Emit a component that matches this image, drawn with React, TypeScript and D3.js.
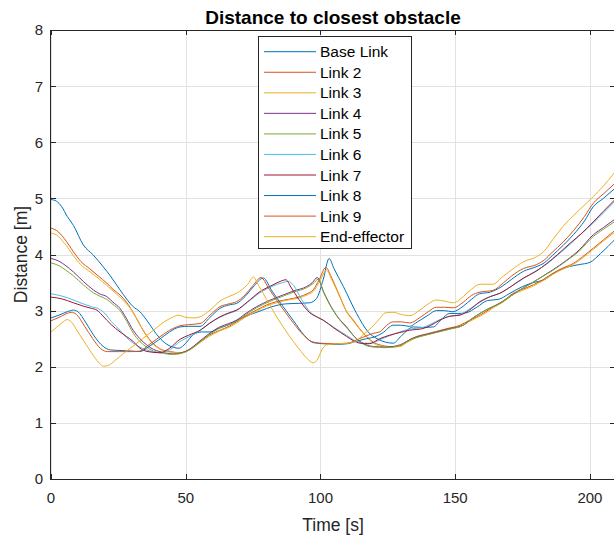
import React from "react";
import * as d3 from "d3";

type Pt = [number, number];

// Time [s], distance [m] samples for each link
const baseLink: Pt[] = [
  [0, 4.98], [2, 4.95], [4, 4.85], [6, 4.68], [8.3, 4.52], [12, 4.17], [15.7, 3.99], [19.4, 3.78],
  [22, 3.62], [25.6, 3.37], [30.5, 3.07], [33, 2.98], [35.5, 2.83], [40, 2.53], [43, 2.4], [47.5, 2.33],
  [50, 2.42], [53, 2.58], [56, 2.62], [59, 2.62], [62, 2.68], [66, 2.75], [70, 2.85], [74, 2.93],
  [78, 3.0], [82, 3.07], [87, 3.12], [92, 3.13], [96, 3.14], [98.6, 3.22], [101, 3.55], [103.2, 3.93],
  [105, 3.75], [108.5, 3.43], [113.4, 2.95], [117.7, 2.62], [121, 2.5], [124, 2.44], [127, 2.42],
  [130, 2.55], [134.5, 2.71], [138, 2.7], [141.9, 2.71], [145, 2.85], [148, 2.95], [151, 2.95],
  [154, 2.96], [158, 3.06], [162, 3.18], [166, 3.2], [170, 3.3], [175, 3.43], [179, 3.5], [183, 3.55],
  [187, 3.68], [192, 3.78], [196, 3.82], [200, 3.86], [204, 4.02], [209.3, 4.27],
];

const link2: Pt[] = [
  [0, 4.47], [2, 4.43], [5, 4.28], [8.3, 4.05], [11, 3.88], [14.5, 3.74], [17.5, 3.62], [20.7, 3.49],
  [23, 3.38], [25.6, 3.28], [28, 3.15], [29.3, 3.06], [31.5, 2.88], [34.2, 2.65], [37, 2.46], [39.2, 2.36],
  [42, 2.29], [44.2, 2.27], [47.9, 2.25], [51, 2.3], [55.3, 2.45], [59, 2.57], [62.7, 2.65], [66, 2.72],
  [68.9, 2.8], [72, 2.9], [76.3, 3.01], [80, 3.1], [83.7, 3.16], [88, 3.2], [92.4, 3.25], [95, 3.3],
  [97.3, 3.37], [99.5, 3.55], [102, 3.77], [104, 3.6], [107.2, 3.25], [109.5, 3.0], [112.2, 2.83],
  [114.5, 2.68], [117.1, 2.54], [119.5, 2.44], [122, 2.39], [126, 2.36], [129.5, 2.37], [132, 2.45],
  [135.7, 2.54], [139, 2.58], [143, 2.63], [147, 2.68], [151.8, 2.74], [155, 2.82], [158, 2.89],
  [161, 2.97], [164.1, 3.07], [168, 3.18], [171.6, 3.31], [175, 3.38], [179, 3.46], [182.5, 3.55],
  [186.4, 3.67], [190, 3.76], [193.8, 3.84], [197, 3.95], [201.2, 4.11], [205, 4.26], [209.3, 4.43],
];

const link3: Pt[] = [
  [0, 4.38], [2, 4.35], [5, 4.2], [8.3, 3.98], [11, 3.82], [14.5, 3.69], [17.5, 3.58], [20.7, 3.45],
  [23, 3.35], [25.6, 3.24], [28, 3.12], [29.8, 3.02], [32, 2.84], [34.5, 2.62], [37, 2.45], [39.5, 2.34],
  [42, 2.28], [44.5, 2.26], [48, 2.25], [51, 2.29], [55.3, 2.43], [59, 2.55], [62.7, 2.64], [66, 2.7],
  [68.9, 2.78], [72, 2.88], [76.3, 2.99], [80, 3.08], [83.7, 3.14], [88, 3.19], [92.4, 3.23], [95, 3.28],
  [97.5, 3.35], [99.7, 3.52], [102.2, 3.72], [104.2, 3.55], [107.4, 3.22], [109.7, 2.98], [112.4, 2.8],
  [114.7, 2.66], [117.3, 2.52], [119.7, 2.42], [122, 2.37], [126, 2.35], [129.5, 2.36], [132, 2.43],
  [135.7, 2.52], [139, 2.57], [143, 2.62], [147, 2.66], [151.8, 2.72], [155, 2.8], [158, 2.87],
  [161, 2.95], [164.1, 3.05], [168, 3.16], [171.6, 3.29], [175, 3.36], [179, 3.44], [182.5, 3.53],
  [186.4, 3.65], [190, 3.74], [193.8, 3.82], [197, 3.93], [201.2, 4.09], [205, 4.24], [209.3, 4.4],
];

const link4: Pt[] = [
  [0, 3.93], [3, 3.88], [5.5, 3.8], [8.3, 3.69], [12, 3.52], [15.7, 3.37], [18, 3.3], [20.7, 3.25],
  [23, 3.15], [25.6, 3.04], [28, 2.86], [30.5, 2.65], [33, 2.5], [35.5, 2.39], [38, 2.31], [40.4, 2.27],
  [45.4, 2.23], [50.3, 2.28], [55.3, 2.46], [59, 2.6], [62.7, 2.71], [66, 2.77], [68.9, 2.83], [72, 2.94],
  [76.3, 3.07], [81, 3.18], [86.2, 3.28], [90, 3.35], [94.9, 3.43], [97, 3.5], [98.8, 3.59], [101, 3.35],
  [104.7, 3.01], [107, 2.85], [109.7, 2.71], [112, 2.57], [114.7, 2.45], [117, 2.39], [119.6, 2.36],
  [124, 2.35], [127, 2.36], [129.5, 2.39], [134.4, 2.51], [138, 2.56], [143.1, 2.62], [148, 2.68],
  [153, 2.74], [156, 2.85], [159.2, 2.95], [163, 3.05], [166.6, 3.13], [170, 3.24], [174, 3.37],
  [178, 3.48], [181.4, 3.58], [186, 3.72], [191.4, 3.9], [196, 4.08], [201.2, 4.35], [205, 4.48], [209.3, 4.63],
];

const link5: Pt[] = [
  [0, 3.85], [3, 3.8], [5.5, 3.72], [8.3, 3.62], [12, 3.46], [15.7, 3.32], [18, 3.26], [20.7, 3.2],
  [23, 3.11], [25.6, 3.0], [28, 2.82], [30.5, 2.6], [33, 2.45], [35.5, 2.35], [38, 2.28], [40.4, 2.25],
  [45.4, 2.22], [50.3, 2.27], [55.3, 2.44], [59, 2.58], [62.7, 2.69], [66, 2.75], [68.9, 2.81], [72, 2.92],
  [76.3, 3.05], [81, 3.16], [86.2, 3.26], [90, 3.33], [94.9, 3.41], [97.2, 3.48], [99.2, 3.56], [101.4, 3.3],
  [105, 2.98], [107.4, 2.82], [110, 2.68], [112.4, 2.54], [115, 2.43], [117.4, 2.37], [120, 2.35],
  [124, 2.34], [127, 2.35], [129.5, 2.38], [134.4, 2.5], [138, 2.55], [143.1, 2.61], [148, 2.67],
  [153, 2.74], [156, 2.85], [159.2, 2.95], [163, 3.05], [166.6, 3.13], [170, 3.24], [174, 3.37],
  [178, 3.48], [181.4, 3.58], [186, 3.71], [191.4, 3.89], [196, 4.06], [201.2, 4.32], [205, 4.45], [209.3, 4.59],
];

const link6: Pt[] = [
  [0, 3.3], [4, 3.26], [8.3, 3.19], [12, 3.12], [15, 3.07], [18.2, 3.02], [20, 2.95], [22.5, 2.8],
  [25.6, 2.65], [28, 2.52], [30.5, 2.42], [33, 2.35], [35.5, 2.3], [40.4, 2.25], [44, 2.3], [47.9, 2.45],
  [51, 2.53], [55.3, 2.64], [59, 2.78], [62.7, 2.88], [66, 2.95], [68.9, 3.0], [73, 3.15], [77.6, 3.32],
  [82, 3.43], [86, 3.5], [88, 3.52], [90, 3.45], [93, 3.2], [96.1, 2.98], [99, 2.88], [101, 2.83],
  [105, 2.7], [109.7, 2.56], [113, 2.46], [116, 2.42], [119, 2.42], [122, 2.48], [125.5, 2.55],
  [129.5, 2.62], [133, 2.67], [138, 2.7], [141, 2.76], [144.3, 2.84], [148, 2.9], [151.8, 2.93],
  [155, 3.02], [159.2, 3.15], [163, 3.25], [166.6, 3.31], [171, 3.44], [175.3, 3.57], [180, 3.71],
  [184, 3.83], [188, 3.99], [192.6, 4.18], [197, 4.38], [201.2, 4.56], [205, 4.74], [209.3, 4.95],
];

const link7: Pt[] = [
  [0, 3.24], [4, 3.21], [8.3, 3.14], [12, 3.08], [15, 3.04], [17, 3.01], [19, 2.92], [20.7, 2.83],
  [24, 2.68], [28, 2.54], [30.5, 2.45], [33, 2.33], [36, 2.27], [40.4, 2.25], [44, 2.33], [47.9, 2.49],
  [51, 2.56], [55.3, 2.65], [59, 2.78], [62.7, 2.89], [66, 2.96], [68.9, 3.01], [73, 3.16], [77.6, 3.34],
  [82, 3.45], [85, 3.52], [87.2, 3.55], [89, 3.42], [92, 3.2], [96.1, 2.96], [99, 2.88], [101, 2.83],
  [105, 2.69], [109.7, 2.54], [112, 2.47], [114.7, 2.42], [118, 2.41], [122, 2.5], [125.5, 2.56],
  [129.5, 2.61], [133, 2.65], [138, 2.68], [141, 2.74], [144.3, 2.83], [148, 2.9], [151.8, 2.92],
  [155, 3.0], [159.2, 3.16], [163, 3.25], [166.6, 3.31], [171, 3.44], [175.3, 3.58], [180, 3.7],
  [184, 3.84], [188, 4.0], [192.6, 4.2], [197, 4.38], [201.2, 4.58], [205, 4.77], [209.3, 4.98],
];

const link8: Pt[] = [
  [0, 2.87], [3, 2.92], [6, 2.98], [8.3, 3.01], [10, 2.98], [13, 2.78], [16, 2.55], [19.4, 2.36],
  [22, 2.3], [25.6, 2.29], [30, 2.28], [33, 2.27], [36, 2.35], [40, 2.48], [44, 2.62], [47.9, 2.71],
  [51, 2.72], [55.3, 2.72], [59, 2.88], [62.7, 3.04], [66, 3.1], [68.9, 3.13], [72, 3.25], [75, 3.42],
  [78.8, 3.58], [82, 3.35], [86, 3.08], [90, 2.82], [94, 2.56], [97.3, 2.43], [101, 2.41], [106, 2.4],
  [110, 2.41], [113, 2.45], [117, 2.5], [120, 2.53], [123, 2.6], [127, 2.74], [130, 2.74], [133, 2.72],
  [136, 2.8], [140, 2.92], [143, 3.0], [146, 3.0], [149, 2.98], [153, 3.08], [156, 3.2], [159, 3.3],
  [163, 3.33], [167, 3.42], [171, 3.56], [175.3, 3.7], [180, 3.78], [183, 3.85], [186, 3.98], [190, 4.16],
  [194, 4.36], [198, 4.6], [201.2, 4.85], [205, 5.0], [209.3, 5.18],
];

const link9: Pt[] = [
  [0, 2.82], [3, 2.88], [5.5, 2.94], [7.5, 2.97], [9.5, 2.93], [12.5, 2.72], [15.5, 2.5], [18.5, 2.32],
  [21, 2.27], [25, 2.27], [30, 2.27], [33, 2.28], [36, 2.38], [40, 2.52], [44, 2.65], [47.9, 2.73],
  [51, 2.75], [55.3, 2.77], [59, 2.92], [62.7, 3.07], [66, 3.12], [68.9, 3.16], [72, 3.28], [75, 3.45],
  [77.9, 3.59], [81, 3.38], [85, 3.1], [89, 2.84], [93, 2.6], [96.7, 2.45], [100, 2.42], [105, 2.41],
  [110, 2.42], [113, 2.47], [117, 2.55], [120, 2.6], [122, 2.62], [124.6, 2.74], [127, 2.8], [130, 2.8],
  [133.2, 2.78], [137, 2.88], [140, 2.98], [143, 3.06], [146, 3.06], [149.3, 3.05], [153, 3.15],
  [156, 3.27], [159.2, 3.33], [164, 3.36], [168, 3.5], [171, 3.62], [175.3, 3.75], [180.2, 3.82],
  [183, 3.9], [186, 4.04], [190, 4.22], [194, 4.43], [198, 4.68], [201.2, 4.91], [205, 5.08], [209.3, 5.27],
];

const endEffector: Pt[] = [
  [0, 2.62], [2, 2.7], [4.5, 2.8], [6, 2.84], [7.5, 2.8], [10, 2.62], [13, 2.4], [16, 2.18], [18, 2.06],
  [19.5, 2.01], [21, 2.02], [24, 2.12], [27, 2.24], [30, 2.35], [34, 2.5], [38, 2.65], [42, 2.8], [45, 2.88],
  [47.2, 2.92], [50, 2.88], [53, 2.87], [55.3, 2.89], [58, 2.97], [60, 3.05], [62.7, 3.17], [66, 3.25],
  [68.9, 3.31], [71, 3.38], [73, 3.47], [75.1, 3.6], [77, 3.45], [80, 3.2], [84, 2.87], [88, 2.58],
  [92, 2.32], [95, 2.15], [97.3, 2.07], [99, 2.14], [100.5, 2.3], [102.3, 2.39], [106, 2.41], [110, 2.42],
  [113, 2.45], [116, 2.58], [119, 2.7], [122, 2.86], [124, 2.96], [127, 2.97], [130, 2.93], [133.2, 2.91],
  [136, 2.98], [140, 3.12], [143, 3.19], [146, 3.17], [149.3, 3.14], [153, 3.25], [156, 3.38],
  [159.2, 3.47], [164, 3.47], [167, 3.58], [171, 3.73], [175.3, 3.87], [180.2, 3.96], [183, 4.06],
  [186, 4.25], [190, 4.5], [194, 4.7], [198, 4.88], [201.2, 5.03], [205, 5.22], [209.3, 5.47],
];

const seriesNames = [
  "Base Link", "Link 2", "Link 3", "Link 4", "Link 5",
  "Link 6", "Link 7", "Link 8", "Link 9", "End-effector",
];
const seriesData = [baseLink, link2, link3, link4, link5, link6, link7, link8, link9, endEffector];
const seriesColors = [
  "#0072BD", "#D95319", "#EDB120", "#7E2F8E", "#77AC30",
  "#4DBEEE", "#A2142F", "#0072BD", "#D95319", "#EDB120",
];

const xTicks = [0, 50, 100, 150, 200];
const yTicks = [0, 1, 2, 3, 4, 5, 6, 7, 8];

const W = 614;
const H = 540;
const plot = { left: 51, right: 615, top: 30, bottom: 479 };
const axisColor = "#262626";
const gridColor = "#e2e2e2";
const font = "'Liberation Sans', Arial, Helvetica, sans-serif";

export default function App() {
  const x = d3.scaleLinear().domain([0, 209.3]).range([plot.left, plot.right]);
  const y = d3.scaleLinear().domain([0, 8]).range([plot.bottom, plot.top]);
  const line = d3
    .line<Pt>()
    .x((d) => x(d[0]))
    .y((d) => y(d[1]))
    .curve(d3.curveMonotoneX);

  const legend = { x: 258.5, y: 36.5, w: 153, h: 212, first: 51.7, step: 20.55 };

  return (
    <svg
      width={W}
      height={H}
      style={{ position: "fixed", left: 0, top: 0, background: "#fff" }}
      fontFamily={font}
    >
      <defs>
        <clipPath id="plotArea">
          <rect x={plot.left} y={plot.top} width={plot.right - plot.left} height={plot.bottom - plot.top} />
        </clipPath>
      </defs>
      <rect x={0} y={0} width={W} height={H} fill="#fff" />

      {/* grid */}
      {xTicks.map((t) => (
        <line key={"gx" + t} x1={Math.round(x(t)) + 0.5} x2={Math.round(x(t)) + 0.5} y1={plot.top} y2={plot.bottom} stroke={gridColor} />
      ))}
      {yTicks.map((t) => (
        <line key={"gy" + t} x1={plot.left} x2={plot.right} y1={Math.round(y(t)) + 0.5} y2={Math.round(y(t)) + 0.5} stroke={gridColor} />
      ))}

      {/* series */}
      <g clipPath="url(#plotArea)">
        {seriesData.map((s, i) => (
          <path key={seriesNames[i]} d={line(s) ?? ""} fill="none" stroke={seriesColors[i]} strokeWidth={1} />
        ))}
      </g>

      {/* axes box */}
      <line x1={plot.left - 0.5} x2={plot.right} y1={plot.top + 0.5} y2={plot.top + 0.5} stroke={axisColor} />
      <line x1={plot.left - 0.5} x2={plot.right} y1={plot.bottom + 0.5} y2={plot.bottom + 0.5} stroke={axisColor} />
      <line x1={plot.left - 0.5} x2={plot.left - 0.5} y1={plot.top} y2={plot.bottom + 1} stroke={axisColor} />

      {/* ticks */}
      {xTicks.map((t) => {
        const px = Math.round(x(t)) + 0.5;
        return (
          <g key={"tx" + t}>
            <line x1={px} x2={px} y1={plot.bottom} y2={plot.bottom - 5} stroke={axisColor} />
            <line x1={px} x2={px} y1={plot.top} y2={plot.top + 5} stroke={axisColor} />
            <text x={x(t)} y={503} textAnchor="middle" fontSize={15} fill={axisColor}>
              {t}
            </text>
          </g>
        );
      })}
      {yTicks.map((t) => {
        const py = Math.round(y(t)) + 0.5;
        return (
          <g key={"ty" + t}>
            <line x1={plot.left} x2={plot.left + 5} y1={py} y2={py} stroke={axisColor} />
            <line x1={plot.right - 5} x2={plot.right} y1={py} y2={py} stroke={axisColor} />
            <text x={43} y={y(t)} dy="0.36em" textAnchor="end" fontSize={15} fill={axisColor}>
              {t}
            </text>
          </g>
        );
      })}

      {/* labels */}
      <text x={(plot.left + plot.right) / 2} y={24} textAnchor="middle" fontSize={19} fontWeight="bold" fill="#000">
        Distance to closest obstacle
      </text>
      <text x={(plot.left + plot.right) / 2} y={531} textAnchor="middle" fontSize={17.5} fill={axisColor}>
        Time [s]
      </text>
      <text
        transform={`translate(27, ${(plot.top + plot.bottom) / 2}) rotate(-90)`}
        textAnchor="middle"
        fontSize={17.5}
        fill={axisColor}
      >
        Distance [m]
      </text>

      {/* legend */}
      <rect x={legend.x} y={legend.y} width={legend.w} height={legend.h} fill="#fff" stroke={axisColor} />
      {seriesNames.map((name, i) => {
        const ly = legend.first + i * legend.step;
        return (
          <g key={"lg" + name}>
            <line x1={264} x2={316} y1={ly} y2={ly} stroke={seriesColors[i]} strokeWidth={1} />
            <text x={320} y={ly} dy="0.36em" fontSize={15.5} fill="#000">
              {name}
            </text>
          </g>
        );
      })}
    </svg>
  );
}
